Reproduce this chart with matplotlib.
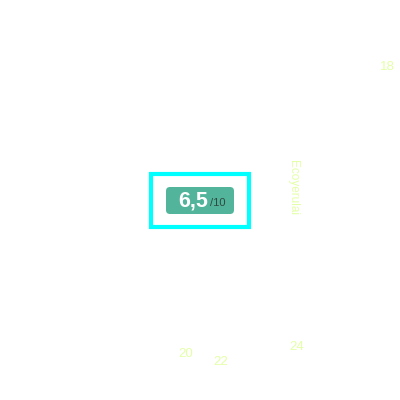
import matplotlib
matplotlib.use("Agg")
import matplotlib.pyplot as plt
from matplotlib.patches import Rectangle, FancyBboxPatch

# =============================
# DATA
# =============================

score = "6,5"
score_max = "/10"
side_label = "Ecoyerulai"

tick_labels = ["18", "20", "22", "24"]
tick_x = [387, 186, 221, 297]
tick_y = [67, 354, 362, 347]

# =============================
# FIGURE
# =============================

plt.rcParams["font.family"] = ["Liberation Sans", "DejaVu Sans"]

fig = plt.figure(figsize=(4, 4), dpi=100)
ax = fig.add_axes([0, 0, 1, 1])
ax.set_xlim(0, 400)
ax.set_ylim(400, 0)
ax.axis("off")

pale = "#e4ffa8"

for t, x, y in zip(tick_labels, tick_x, tick_y):
    ax.text(x, y, t, color=pale, fontsize=9.5, ha="center", va="center")

ax.text(293, 188, side_label, color=pale, fontsize=8.5, rotation=-90,
        ha="center", va="center")

# outer highlight frame
ax.add_patch(Rectangle((151, 174), 98, 53, fill=False,
                       edgecolor="#00ffff", linewidth=3))

# score badge
ax.add_patch(FancyBboxPatch((166, 187), 68, 27,
                            boxstyle="round,pad=0,rounding_size=4",
                            facecolor="#52b59b", edgecolor="none"))

ax.text(208, 201.5, score, color="white", fontsize=15.5, fontweight="bold",
        ha="right", va="center")
ax.text(210, 203.5, score_max, color="#2f4a40", fontsize=8,
        ha="left", va="center")

fig.savefig("out.png", dpi=100, facecolor="white")
